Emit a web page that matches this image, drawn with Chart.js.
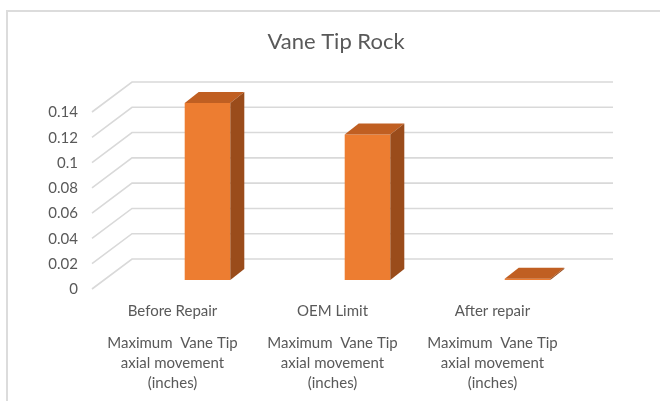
<!DOCTYPE html>
<html><head><meta charset="utf-8">
<script src="https://cdn.jsdelivr.net/npm/chart.js@4.4.1/dist/chart.umd.min.js"></script>
<style>
html,body{margin:0;padding:0;background:#fff;overflow:hidden;width:660px;height:401px;}
#frame{position:absolute;left:6px;top:10px;width:700px;height:500px;border-left:2px solid #dcdcdc;border-top:2px solid #dcdcdc;}
canvas{position:absolute;left:0;top:0;}
</style></head><body>
<div id="frame"></div>
<canvas id="c" width="660" height="401"></canvas>
<script>
const chartTitle = 'Vane Tip Rock';
const categories = ['Before Repair', 'OEM Limit', 'After repair'];
const descriptions = [
  ['Maximum  Vane Tip', 'axial movement', '(inches)'],
  ['Maximum  Vane Tip', 'axial movement', '(inches)'],
  ['Maximum  Vane Tip', 'axial movement', '(inches)']
];
const values = [0.14, 0.115, 0.001];
const yTickValues = [0, 0.02, 0.04, 0.06, 0.08, 0.1, 0.12, 0.14];
const yTickLabels = ['0', '0.02', '0.04', '0.06', '0.08', '0.1', '0.12', '0.14'];

const TEXT = '#595959';
const FONT = 'Lato';

const depth3d = {
  id: 'depth3d',
  beforeDatasetsDraw(chart) {
    const {ctx, chartArea, scales} = chart;
    const y = scales.y;
    ctx.save();
    ctx.strokeStyle = '#d9d9d9';
    ctx.lineWidth = 1.6;
    y.ticks.forEach(t => {
      const py = y.getPixelForValue(t.value);
      ctx.beginPath();
      ctx.moveTo(chartArea.left - 35.5, py + 9);
      ctx.lineTo(chartArea.left + 4.5, py - 21);
      ctx.lineTo(chartArea.right + 5.5, py - 21);
      ctx.stroke();
    });
    ctx.restore();
  },
  afterDatasetsDraw(chart) {
    const {ctx} = chart;
    const meta = chart.getDatasetMeta(0);
    ctx.save();
    meta.data.forEach(bar => {
      const p = bar.getProps(['x', 'y', 'base', 'width'], true);
      const l = p.x - p.width / 2, r = p.x + p.width / 2, dx = 14, dy = 11;
      ctx.fillStyle = '#c05f22';
      ctx.beginPath();
      ctx.moveTo(l, p.y); ctx.lineTo(l + dx, p.y - dy); ctx.lineTo(r + dx, p.y - dy); ctx.lineTo(r, p.y);
      ctx.closePath(); ctx.fill();
      ctx.fillStyle = '#9a4c1b';
      ctx.beginPath();
      ctx.moveTo(r, p.y); ctx.lineTo(r + dx, p.y - dy); ctx.lineTo(r + dx, p.base - dy); ctx.lineTo(r, p.base);
      ctx.closePath(); ctx.fill();
    });
    ctx.restore();
  }
};

new Chart(document.getElementById('c'), {
  type: 'bar',
  data: {
    labels: categories,
    datasets: [{
      data: values,
      backgroundColor: '#ed7d31',
      borderWidth: 0,
      categoryPercentage: 1,
      barPercentage: 0.285
    }]
  },
  options: {
    responsive: false,
    animation: false,
    layout: {padding: {left: 12, right: 0, top: 0, bottom: 0}},
    plugins: {
      legend: {display: false},
      tooltip: {enabled: false},
      title: {
        display: true,
        text: chartTitle,
        color: TEXT,
        font: {family: FONT, size: 22, weight: 'normal'},
        padding: {top: 28.8, bottom: 47.8}
      }
    },
    scales: {
      x: {
        type: 'category',
        offset: true,
        weight: 0,
        grid: {display: false, drawTicks: false},
        border: {display: false},
        ticks: {
          color: TEXT, font: {family: FONT, size: 15}, padding: 22,
          labelOffset: -35, maxRotation: 0, autoSkip: false
        },
        afterFit: s => { s.height = 45; }
      },
      x2: {
        type: 'category',
        position: 'bottom',
        labels: descriptions,
        offset: true,
        weight: 1,
        grid: {display: false, drawTicks: false},
        border: {display: false},
        ticks: {
          color: TEXT, font: {family: FONT, size: 15, lineHeight: '20px'}, padding: 8,
          labelOffset: -35, maxRotation: 0, autoSkip: false
        },
        afterFit: s => { s.height = 76; }
      },
      y: {
        min: 0,
        max: 0.14,
        grid: {display: false, drawTicks: false},
        border: {display: false},
        afterBuildTicks: s => { s.ticks = yTickValues.map(v => ({value: v})); },
        ticks: {
          color: TEXT, font: {family: FONT, size: 15}, padding: 49.5, labelOffset: 9.5,
          callback: (v, i) => yTickLabels[i]
        },
        afterFit: s => { s.width = 115.5; }
      },
      yRight: {
        type: 'linear',
        position: 'right',
        display: true,
        grid: {display: false, drawTicks: false},
        border: {display: false},
        ticks: {display: false},
        afterFit: s => { s.width = 52.5; }
      }
    }
  },
  plugins: [depth3d]
});
</script>
</body></html>
